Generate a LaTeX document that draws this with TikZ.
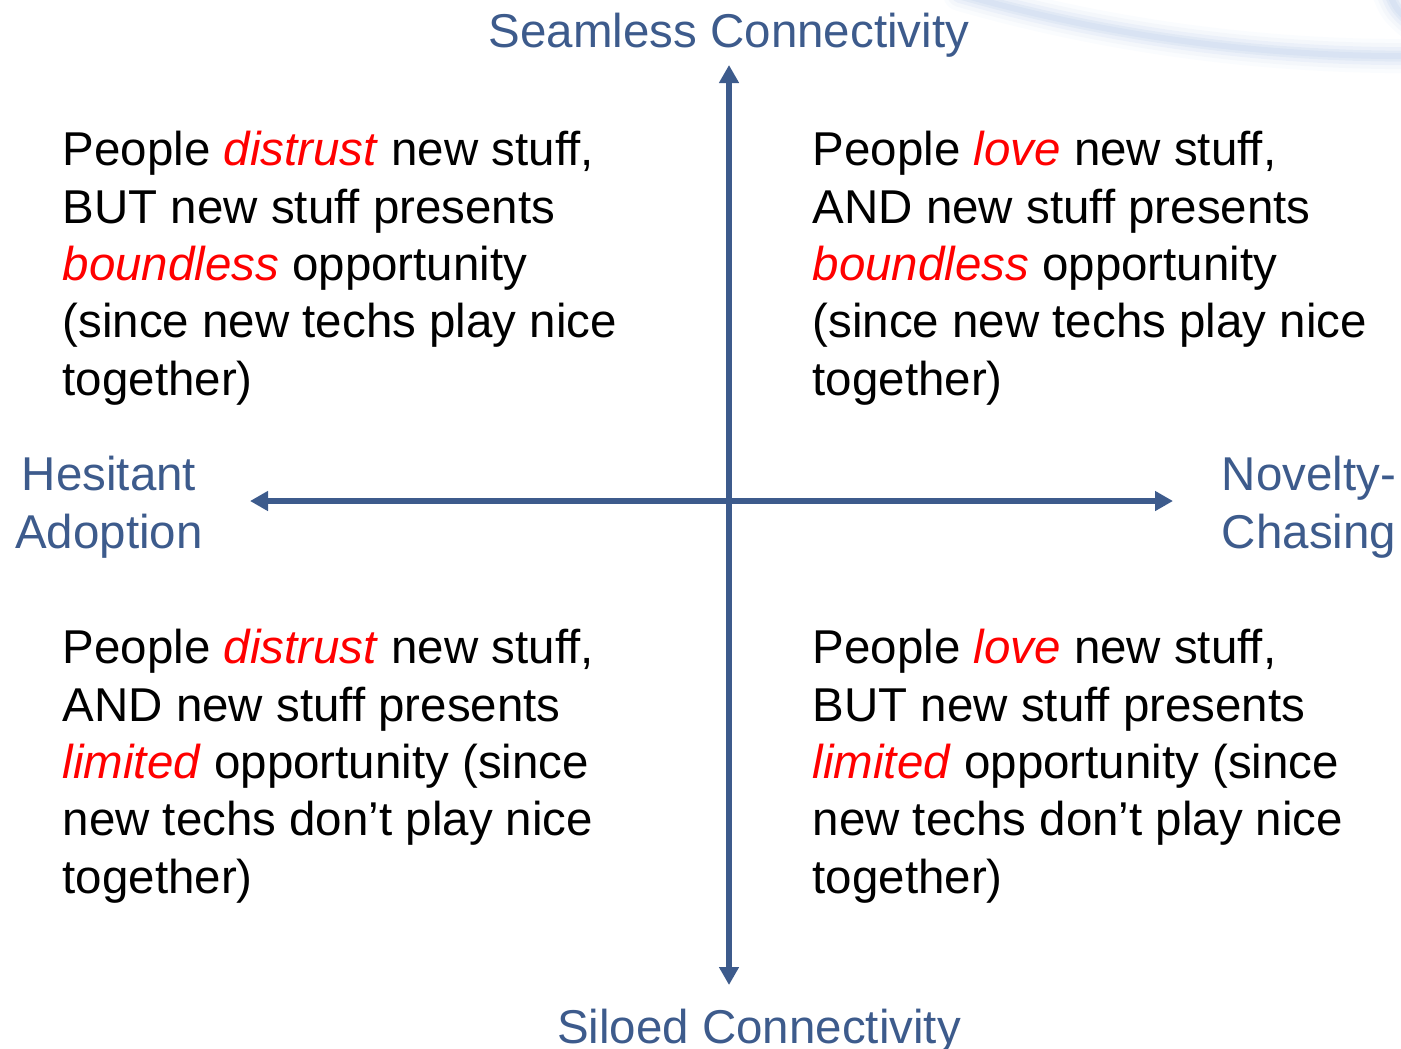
\documentclass[tikz,border=0pt]{standalone}
\usepackage{fontspec}
\setmainfont{Liberation Sans}
\usetikzlibrary{positioning, arrows.meta, calc}
\definecolor{axisblue}{RGB}{61,91,140}
\definecolor{swooshblue}{RGB}{196,212,236}
\newcommand{\hl}[1]{\textcolor{red}{\textit{#1}}}

\begin{document}
\begin{tikzpicture}[x=0.01cm,y=-0.01cm,
        quad/.style={align=left, anchor=base west, inner sep=0pt, font=\fontsize{13.5pt}{16.3pt}\selectfont},
        axlabel/.style={align=center, anchor=base, inner sep=0pt, text=axisblue, font=\fontsize{13.5pt}{16.3pt}\selectfont},
        axis/.style={draw=axisblue, line width=0.06cm, {Triangle[length=0.18cm,width=0.19cm]}-{Triangle[length=0.18cm,width=0.19cm]}}]
    \useasboundingbox (0,0) rectangle (1401,1048);
    % soft swoosh in the corner
    \foreach \w/\o in {34/0.08,26/0.12,18/0.18,11/0.25,6/0.3}{
        \draw[swooshblue, line width=\w*0.01cm, opacity=\o, line cap=round]
            (960,-6) .. controls (1120,40) and (1280,58) .. (1430,56);
        \draw[swooshblue, line width=\w*0.01cm, opacity=\o, line cap=round]
            (1388,-10) .. controls (1396,10) .. (1420,30);
    }
    % axes
    \coordinate (top) at (729,65);
    \coordinate (bottom) at (729,985);
    \coordinate (left) at (250,501);
    \coordinate (right) at (1173,501);
    \draw[axis] (bottom) -- (top);
    \draw[axis] (left) -- (right);
    % axis labels (base = last line)
    \node[axlabel] (seamless) at (729,47) {Seamless Connectivity};
    \node[axlabel] (siloed) at (759,1043) {Siloed Connectivity};
    \node[axlabel] (hesitant) at (109,548) {Hesitant\\Adoption};
    \node[axlabel] (novelty) at (1309,548) {Novelty-\\Chasing};
    % quadrants
    \node[quad] (tl) at (62,395) {People \hl{distrust} new stuff,\\BUT new stuff presents\\\hl{boundless} opportunity\\(since new techs play nice\\together)};
    \node[quad] (tr) at (812,395) {People \hl{love} new stuff,\\AND new stuff presents\\\hl{boundless} opportunity\\(since new techs play nice\\together)};
    \node[quad] (bl) at (62,893) {People \hl{distrust} new stuff,\\AND new stuff presents\\\hl{limited} opportunity (since\\new techs don’t play nice\\together)};
    \node[quad] (br) at (812,893) {People \hl{love} new stuff,\\BUT new stuff presents\\\hl{limited} opportunity (since\\new techs don’t play nice\\together)};
\end{tikzpicture}
\end{document}
